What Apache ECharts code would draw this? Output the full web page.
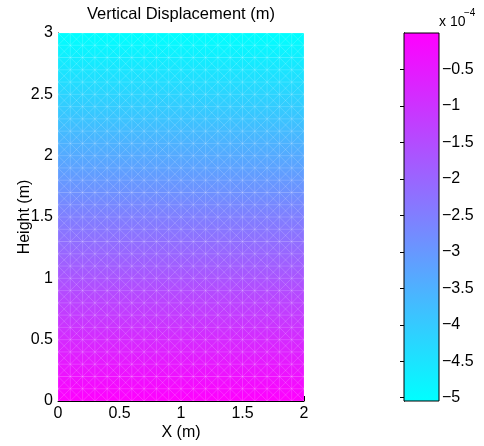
<!DOCTYPE html>
<html>
<head>
<meta charset="utf-8">
<script src="https://cdn.jsdelivr.net/npm/echarts@6/dist/echarts.min.js"></script>
<style>html,body{margin:0;padding:0;background:#fff}#c{width:484px;height:446px}</style>
</head>
<body>
<div id="c"></div>
<script>
// Heights (m) of the mesh node rows
const heights = [0,0.1,0.2,0.3,0.4,0.5,0.6,0.7,0.8,0.9,1.0,1.1,1.2,1.3,1.4,1.5,1.6,1.7,1.8,1.9,2.0,2.1,2.2,2.3,2.4,2.5,2.6,2.7,2.8,2.9,3.0];
// Vertical displacement at each node row (units of 1e-4 m)
const displacement = [0,-0.17,-0.34,-0.50,-0.67,-0.84,-1.01,-1.18,-1.35,-1.51,-1.68,-1.85,-2.02,-2.19,-2.35,-2.52,-2.69,-2.86,-3.03,-3.20,-3.36,-3.53,-3.70,-3.87,-4.04,-4.20,-4.37,-4.54,-4.71,-4.88,-5.05];
// X positions (m) of mesh node columns
const xNodes = [0,0.1,0.2,0.3,0.4,0.5,0.6,0.7,0.8,0.9,1.0,1.1,1.2,1.3,1.4,1.5,1.6,1.7,1.8,1.9,2.0];
// Colour range of the colorbar (units of 1e-4 m)
const cRange = [-5.045, 0];
const xTicks = [0,0.5,1,1.5,2];
const yTicks = [0,0.5,1,1.5,2,2.5,3];
const cTicks = [-5,-4.5,-4,-3.5,-3,-2.5,-2,-1.5,-1,-0.5];

function cool(v){
  let t=(v-cRange[0])/(cRange[1]-cRange[0]);
  t=Math.max(0,Math.min(1,t));
  return 'rgb('+Math.round(255*t)+','+Math.round(255*(1-t))+',255)';
}

// fill rows
const fillData=[];
for(let i=0;i<heights.length-1;i++){
  fillData.push([xNodes[0],xNodes[xNodes.length-1],heights[i],heights[i+1],displacement[i],displacement[i+1]]);
}
// mesh segments
const meshData=[];
const x0=xNodes[0], x1=xNodes[xNodes.length-1], y0=heights[0], y1=heights[heights.length-1];
xNodes.forEach(x=>meshData.push([x,y0,x,y1]));
heights.forEach(y=>meshData.push([x0,y,x1,y]));
for(let i=0;i<xNodes.length-1;i++){
  for(let j=0;j<heights.length-1;j++){
    meshData.push([xNodes[i],heights[j],xNodes[i+1],heights[j+1]]);
    meshData.push([xNodes[i],heights[j+1],xNodes[i+1],heights[j]]);
  }
}

const font='"Liberation Sans", Arial, Helvetica, sans-serif';
const chart=echarts.init(document.getElementById('c'),null,{renderer:'canvas'});
const minusFmt=v=>String(v).replace('-','\u2212');
const axisCommon={
  axisLine:{show:true,lineStyle:{color:'#000',width:1}},
  axisTick:{show:true,inside:true,length:5,lineStyle:{color:'#000'}},
  splitLine:{show:false},
  axisLabel:{color:'#000',fontSize:16,fontFamily:font}
};
chart.setOption({
  animation:false,
  backgroundColor:'#fff',
  grid:[
    {left:58,top:33,width:246,height:368,show:false,containLabel:false,outerBoundsMode:'none'},
    {left:404,top:33,width:35,height:368,show:false,containLabel:false,outerBoundsMode:'none'}
  ],
  xAxis:[
    Object.assign({},axisCommon,{gridIndex:0,type:'value',min:0,max:2,interval:0.5,
      axisLabel:Object.assign({},axisCommon.axisLabel,{margin:5,customValues:xTicks}),
      name:'X (m)',nameLocation:'middle',nameGap:24,nameMoveOverlap:false,
      nameTextStyle:{color:'#000',fontSize:16,fontFamily:font}}),
    {gridIndex:1,type:'value',min:0,max:1,show:false}
  ],
  yAxis:[
    Object.assign({},axisCommon,{gridIndex:0,type:'value',min:0,max:3,interval:0.5,
      axisLabel:Object.assign({},axisCommon.axisLabel,{margin:5,customValues:yTicks}),
      name:'Height (m)',nameLocation:'middle',nameGap:25,nameMoveOverlap:false,
      nameTextStyle:{color:'#000',fontSize:16,fontFamily:font}}),
    {gridIndex:1,type:'value',min:cRange[0],max:cRange[1],position:'right',
      axisLine:{show:true,lineStyle:{color:'#000'}},
      axisTick:{show:true,inside:true,length:4,customValues:cTicks,lineStyle:{color:'#000'}},
      axisLabel:{show:true,customValues:cTicks,formatter:minusFmt,color:'#000',fontSize:16,fontFamily:font,margin:3},
      splitLine:{show:false}},
    {gridIndex:1,type:'value',min:cRange[0],max:cRange[1],position:'left',
      axisLine:{show:true,lineStyle:{color:'#000'}},
      axisTick:{show:true,inside:true,length:4,customValues:cTicks,lineStyle:{color:'#000'}},
      axisLabel:{show:false},splitLine:{show:false}}
  ],
  graphic:[
    {type:'text',x:181,y:6,style:{text:'Vertical Displacement (m)',fill:'#000',font:'16.5px '+font,textAlign:'center',textVerticalAlign:'top'}},
    {type:'text',x:439,y:29,style:{text:'x 10',fill:'#000',font:'14px '+font,textAlign:'left',textVerticalAlign:'bottom'}},
    {type:'text',x:464,y:18,style:{text:'\u22124',fill:'#000',font:'10px '+font,textAlign:'left',textVerticalAlign:'bottom'}},
    {type:'rect',shape:{x:404,y:33,width:35,height:368},style:{fill:'none',stroke:'#000',lineWidth:1},z:100}
  ],
  series:[
    {type:'custom',xAxisIndex:0,yAxisIndex:0,data:fillData,clip:true,
      renderItem:function(params,api){
        const p0=api.coord([api.value(0),api.value(3)]);
        const p1=api.coord([api.value(1),api.value(2)]);
        return {type:'rect',shape:{x:p0[0],y:p0[1]-0.3,width:p1[0]-p0[0],height:p1[1]-p0[1]+0.6},
          style:{fill:new echarts.graphic.LinearGradient(0,0,0,1,[{offset:0,color:cool(api.value(5))},{offset:1,color:cool(api.value(4))}])}};
      }},
    {type:'custom',xAxisIndex:0,yAxisIndex:0,data:meshData,clip:true,z:3,
      renderItem:function(params,api){
        const a=api.coord([api.value(0),api.value(1)]);
        const b=api.coord([api.value(2),api.value(3)]);
        return {type:'line',shape:{x1:a[0],y1:a[1],x2:b[0],y2:b[1]},style:{stroke:'rgba(255,255,255,0.28)',lineWidth:0.6}};
      }},
    {type:'custom',xAxisIndex:1,yAxisIndex:1,data:[[0,1,cRange[0],cRange[1]]],
      renderItem:function(params,api){
        const p0=api.coord([api.value(0),api.value(3)]);
        const p1=api.coord([api.value(1),api.value(2)]);
        return {type:'rect',shape:{x:p0[0],y:p0[1],width:p1[0]-p0[0],height:p1[1]-p0[1]},
          style:{fill:new echarts.graphic.LinearGradient(0,0,0,1,[{offset:0,color:cool(cRange[1])},{offset:1,color:cool(cRange[0])}])}};
      }}
  ]
});
</script>
</body>
</html>
